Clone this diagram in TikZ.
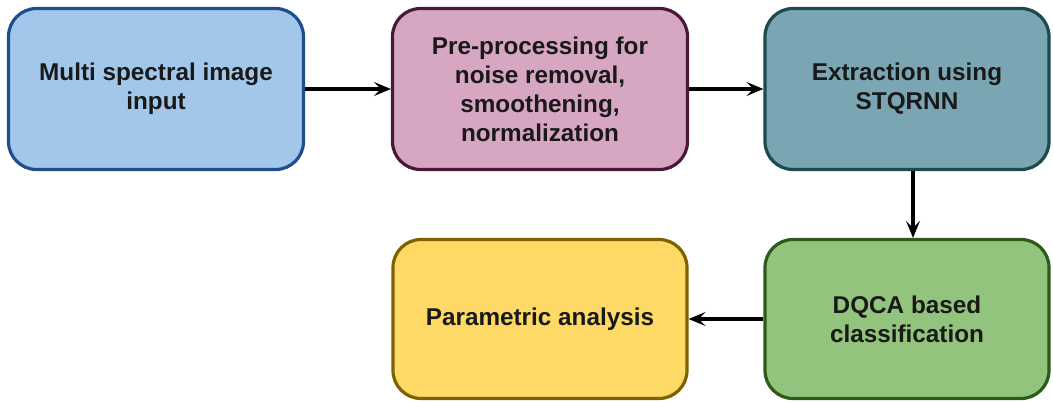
\documentclass[tikz,border=0pt]{standalone}
\usepackage{fontspec}
\setmainfont{Liberation Sans}
\usetikzlibrary{arrows.meta}
\definecolor{blueF}{HTML}{A3C7EB}
\definecolor{blueD}{HTML}{1F4E8C}
\definecolor{pinkF}{HTML}{D7A6C3}
\definecolor{pinkD}{HTML}{4A1838}
\definecolor{tealF}{HTML}{7AA6B3}
\definecolor{tealD}{HTML}{1C4A4F}
\definecolor{greenF}{HTML}{93C47D}
\definecolor{greenD}{HTML}{2D5A1B}
\definecolor{yellowF}{HTML}{FFD966}
\definecolor{yellowD}{HTML}{7F6200}
\tikzset{
  stage/.style={draw, line width=3.2pt, rounded corners=28pt, align=center,
    font=\fontsize{24.3}{29}\selectfont\bfseries, text=black!90,
    minimum height=#1, inner sep=0pt},
  stage/.default=161pt,
  flow/.style={line width=3.2pt, -{Stealth[length=17pt,width=14pt,inset=7pt]}}
}
\begin{document}
\begin{tikzpicture}[x=1pt,y=-1pt]
\useasboundingbox (0,0) rectangle (1053,403);
\node[stage, fill=blueF, draw=blueD, minimum width=295pt] (input) at (156,89)
  {Multi spectral image\\input};
\node[stage, fill=pinkF, draw=pinkD, minimum width=295pt] (pre) at (540,89)
  {Pre-processing for\\noise removal,\\smoothening,\\normalization};
\node[stage, fill=tealF, draw=tealD, minimum width=284pt] (ext) at (907,89)
  {Extraction using\\STQRNN};
\node[stage, fill=greenF, draw=greenD, minimum width=284pt, minimum height=159pt] (cls) at (907,319)
  {DQCA based\\classification};
\node[stage, fill=yellowF, draw=yellowD, minimum width=294pt, minimum height=159pt] (par) at (540,319)
  {Parametric analysis};
\draw[flow] (input.east) -- (pre.west);
\draw[flow] (pre.east) -- (ext.west);
\draw[flow] (ext.south -| 913,0) -- (cls.north -| 913,0);
\draw[flow] (cls.west) -- (par.east);
\end{tikzpicture}
\end{document}
